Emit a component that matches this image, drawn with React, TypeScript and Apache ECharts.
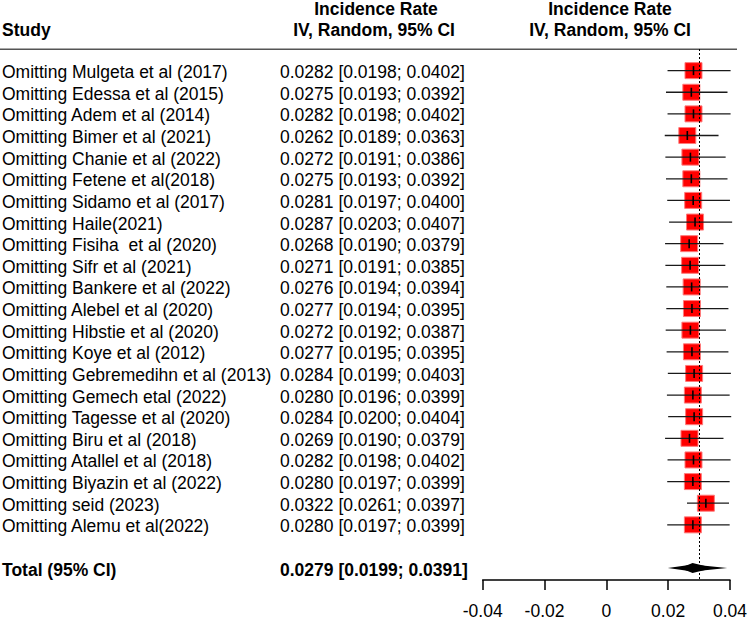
import React, { useEffect, useRef } from "react";
import * as echarts from "echarts";

const studies = [
  "Omitting Mulgeta et al (2017)",
  "Omitting Edessa et al (2015)",
  "Omitting Adem et al (2014)",
  "Omitting Bimer et al (2021)",
  "Omitting Chanie et al (2022)",
  "Omitting Fetene et al(2018)",
  "Omitting Sidamo et al (2017)",
  "Omitting Haile(2021)",
  "Omitting Fisiha  et al (2020)",
  "Omitting Sifr et al (2021)",
  "Omitting Bankere et al (2022)",
  "Omitting Alebel et al (2020)",
  "Omitting Hibstie et al (2020)",
  "Omitting Koye et al (2012)",
  "Omitting Gebremedihn et al (2013)",
  "Omitting Gemech etal (2022)",
  "Omitting Tagesse et al (2020)",
  "Omitting Biru et al (2018)",
  "Omitting Atallel et al (2018)",
  "Omitting Biyazin et al (2022)",
  "Omitting seid (2023)",
  "Omitting Alemu et al(2022)",
];
const estimates = [
  0.0282, 0.0275, 0.0282, 0.0262, 0.0272, 0.0275, 0.0281, 0.0287, 0.0268, 0.0271, 0.0276,
  0.0277, 0.0272, 0.0277, 0.0284, 0.028, 0.0284, 0.0269, 0.0282, 0.028, 0.0322, 0.028,
];
const lowers = [
  0.0198, 0.0193, 0.0198, 0.0189, 0.0191, 0.0193, 0.0197, 0.0203, 0.019, 0.0191, 0.0194,
  0.0194, 0.0192, 0.0195, 0.0199, 0.0196, 0.02, 0.019, 0.0198, 0.0197, 0.0261, 0.0197,
];
const uppers = [
  0.0402, 0.0392, 0.0402, 0.0363, 0.0386, 0.0392, 0.04, 0.0407, 0.0379, 0.0385, 0.0394,
  0.0395, 0.0387, 0.0395, 0.0403, 0.0399, 0.0404, 0.0379, 0.0402, 0.0399, 0.0397, 0.0399,
];
const totalLabel = "Total (95% CI)";
const totalValues = [0.0279, 0.0199, 0.0391]; // estimate, lower, upper
const xTickValues = [-0.04, -0.02, 0, 0.02, 0.04];
const xTickLabels = ["-0.04", "-0.02", "0", "0.02", "0.04"];
const headerStudy = "Study";
const headerLine1 = "Incidence Rate";
const headerLine2 = "IV, Random, 95% CI";

const FONT = '"Liberation Sans", Arial, sans-serif';
const TOTAL_ROW = studies.length + 1;

const fmtCI = (e: number, l: number, u: number) =>
  `${e.toFixed(4)} [${l.toFixed(4)}; ${u.toFixed(4)}]`;

export default function App() {
  const ref = useRef<HTMLDivElement>(null);
  useEffect(() => {
    if (!ref.current) return;
    const chart = echarts.init(ref.current, undefined, { renderer: "svg" });

    const rowData = studies.map((_, i) => [estimates[i], i, lowers[i], uppers[i]]);
    const labelRows = [
      ...studies.map((s, i) => ({ idx: i, name: s, ci: fmtCI(estimates[i], lowers[i], uppers[i]), bold: false })),
      { idx: TOTAL_ROW, name: totalLabel, ci: fmtCI(totalValues[0], totalValues[1], totalValues[2]), bold: true },
    ];

    const headerStyle = (text: string, align: string) => ({
      text,
      font: `bold 17.5px ${FONT}`,
      fill: "#000",
      verticalAlign: "middle",
      align,
    });

    const option: any = {
      animation: false,
      grid: { left: 482.7, right: 16.7, top: 49, bottom: 40 },
      xAxis: {
        type: "value",
        min: xTickValues[0],
        max: xTickValues[xTickValues.length - 1],
        interval: 0.02,
        splitLine: { show: false },
        axisLine: { show: true, onZero: false, lineStyle: { color: "#000", width: 1.5 } },
        axisTick: { show: true, length: 10, lineStyle: { color: "#000", width: 1.5 } },
        axisLabel: {
          margin: 22,
          color: "#000",
          fontSize: 17.5,
          fontFamily: FONT,
          formatter: (v: number) => {
            const k = xTickValues.findIndex((t) => Math.abs(t - v) < 1e-9);
            return k >= 0 ? xTickLabels[k] : "";
          },
        },
      },
      yAxis: { type: "value", show: false, min: -1, max: 23.55, inverse: true },
      graphic: [
        {
          type: "line",
          shape: { x1: 0, y1: 49.3, x2: 737, y2: 49.3 },
          style: { stroke: "#555", lineWidth: 1.5 },
        },
        { type: "text", x: 2, y: 29.5, style: headerStyle(headerStudy, "left") },
        { type: "text", x: 376, y: 9, style: headerStyle(headerLine1, "center") },
        { type: "text", x: 374, y: 29.5, style: headerStyle(headerLine2, "center") },
        { type: "text", x: 610, y: 9, style: headerStyle(headerLine1, "center") },
        { type: "text", x: 610, y: 29.5, style: headerStyle(headerLine2, "center") },
      ],
      series: [
        {
          type: "custom",
          name: "studies",
          clip: false,
          silent: true,
          data: rowData,
          encode: { x: [0, 2, 3], y: 1 },
          renderItem: (params: any, api: any) => {
            const est = api.value(0);
            const i = api.value(1);
            const lo = api.value(2);
            const hi = api.value(3);
            const [xe, y] = api.coord([est, i]);
            const xl = api.coord([lo, i])[0];
            const xh = api.coord([hi, i])[0];
            return {
              type: "group",
              children: [
                {
                  type: "rect",
                  shape: { x: xe - 8.5, y: y - 8, width: 17, height: 16 },
                  style: { fill: "#ff0000", stroke: "#ff7a7a", lineWidth: 1 },
                },
                {
                  type: "line",
                  shape: { x1: xl, y1: y, x2: xh, y2: y },
                  style: { stroke: "#1a1a1a", lineWidth: 1.3 },
                },
                {
                  type: "line",
                  shape: { x1: xe, y1: y - 4.5, x2: xe, y2: y + 4.5 },
                  style: { stroke: "#000", lineWidth: 1.6 },
                },
              ],
            };
          },
          markLine: {
            silent: true,
            symbol: ["none", "none"],
            label: { show: false },
            lineStyle: { type: [2, 2], color: "#000", width: 1 },
            data: [{ xAxis: totalValues[0] }],
          },
        },
        {
          type: "custom",
          name: "total",
          clip: false,
          silent: true,
          data: [[totalValues[0], TOTAL_ROW, totalValues[1], totalValues[2]]],
          encode: { x: [0, 2, 3], y: 1 },
          renderItem: (params: any, api: any) => {
            const est = api.value(0);
            const i = api.value(1);
            const lo = api.value(2);
            const hi = api.value(3);
            const [xe, y] = api.coord([est, i]);
            const xl = api.coord([lo, i])[0];
            const xh = api.coord([hi, i])[0];
            const il = xe - (xe - xl) * 0.5;
            const ih = xe + (xh - xe) * 0.6;
            return {
              type: "group",
              children: [
                {
                  type: "polygon",
                  shape: { points: [[xl, y], [xe, y - 3.5], [xh, y], [xe, y + 3.5]] },
                  style: { fill: "#000" },
                },
                {
                  type: "polygon",
                  shape: { points: [[il, y], [xe, y - 5], [ih, y], [xe, y + 5]] },
                  style: { fill: "#000" },
                },
              ],
            };
          },
        },
        {
          type: "custom",
          name: "labels",
          clip: false,
          silent: true,
          data: labelRows.map((r) => [0, r.idx]),
          encode: { x: 0, y: 1 },
          renderItem: (params: any, api: any) => {
            const r = labelRows[params.dataIndex];
            const y = api.coord([0, r.idx])[1] + 1.5;
            const st = {
              font: `${r.bold ? "bold " : ""}17.5px ${FONT}`,
              fill: "#000",
              verticalAlign: "middle",
              align: "left",
            };
            return {
              type: "group",
              children: [
                { type: "text", x: 2, y, style: { ...st, text: r.name } },
                { type: "text", x: 280, y, style: { ...st, text: r.ci } },
              ],
            };
          },
        },
      ],
    };
    chart.setOption(option);
    return () => chart.dispose();
  }, []);
  return (
    <div
      ref={ref}
      style={{ position: "absolute", left: 0, top: 0, width: 750, height: 620, background: "#fff" }}
    />
  );
}
